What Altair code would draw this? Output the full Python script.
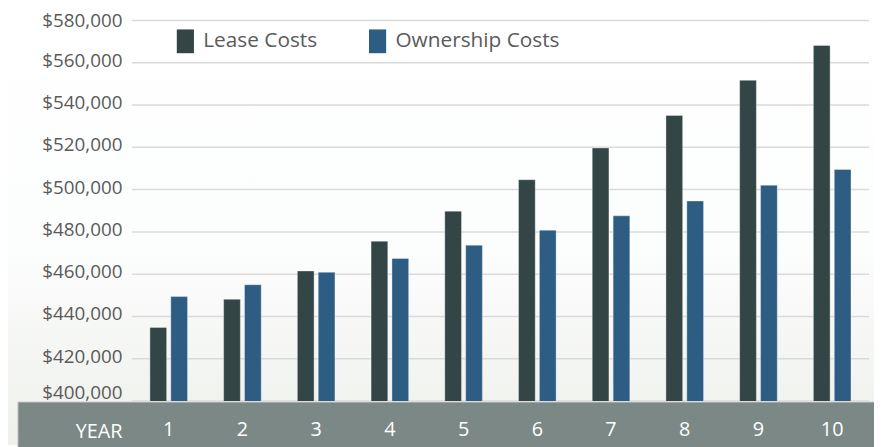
import altair as alt
import pandas as pd

years = ["1", "2", "3", "4", "5", "6", "7", "8", "9", "10"]
lease = [434800, 448100, 461500, 475600, 489800, 504700, 519700, 535100, 551700, 568200]
own = [449400, 455000, 460900, 467400, 473700, 480800, 487600, 494600, 502100, 509500]
series = ["Lease Costs", "Ownership Costs"]
colors = ["#334545", "#2e5d84"]
ticks = [400000 + 20000 * i for i in range(10)]

rows = []
for i, y in enumerate(years):
    rows.append({"year": y, "series": series[0], "cost": lease[i]})
    rows.append({"year": y, "series": series[1], "cost": own[i]})
df = pd.DataFrame(rows)
grid_df = pd.DataFrame({"v": ticks})
one = pd.DataFrame({"a": [0]})

FONT = "Open Sans"
W, H = 744, 384

bg = alt.Chart(one).mark_rect(
    fill=alt.Gradient(
        gradient="linear",
        stops=[
            alt.GradientStop(color="#ffffff", offset=0),
            alt.GradientStop(color="#fcfdfd", offset=0.55),
            alt.GradientStop(color="#eef0eb", offset=1),
        ],
        x1=0, x2=0, y1=0, y2=1,
    )
).encode(x=alt.value(-125), x2=alt.value(W + 5), y=alt.value(-10.6), y2=alt.value(H + 44.4))

band = alt.Chart(one).mark_rect(fill="#7b8886", stroke="#c9cecc", strokeWidth=1).encode(
    x=alt.value(-115), x2=alt.value(W + 10), y=alt.value(H + 1), y2=alt.value(H + 50)
)

grid = alt.Chart(grid_df).mark_rule(color="#dadada", strokeWidth=1.5).encode(
    y=alt.Y("v:Q", scale=alt.Scale(domain=[400000, 580000], nice=False, zero=False))
)

bars = alt.Chart(df).mark_bar(stroke="#ffffff", strokeOpacity=0.35, strokeWidth=1, clip=True).encode(
    x=alt.X(
        "year:N",
        sort=years,
        scale=alt.Scale(paddingInner=0.49, paddingOuter=0.245),
        axis=alt.Axis(
            title="YEAR",
            titleColor="#ffffff",
            titleFont=FONT,
            titleFontSize=20,
            titleFontWeight="normal",
            titleAlign="right",
            titleAnchor="start",
            titleX=-10,
            titleY=31,
            titleBaseline="middle",
            labelColor="#ffffff",
            labelFont=FONT,
            labelFontSize=20,
            labelAngle=0,
            labelPadding=29,
            labelBaseline="middle",
            ticks=False,
            domain=False,
            zindex=2,
        ),
    ),
    xOffset=alt.XOffset("series:N", sort=series, scale=alt.Scale(paddingInner=0.2, paddingOuter=0)),
    y=alt.Y(
        "cost:Q",
        scale=alt.Scale(domain=[400000, 580000], nice=False, zero=False),
        axis=alt.Axis(
            title=None,
            values=ticks,
            format="$,.0f",
            labelColor="#5a5a5a",
            labelFont=FONT,
            labelFontSize=19,
            labelPadding=10,
            labelOffset=alt.ExprRef("datum.value == 580000 ? 0 : -2.5"),
            labelBaseline=alt.ExprRef("datum.value == 400000 ? 'alphabetic' : 'middle'"),
            ticks=False,
            domain=False,
            grid=False,
            zindex=2,
        ),
    ),
    color=alt.Color(
        "series:N",
        sort=series,
        scale=alt.Scale(domain=series, range=colors),
        legend=alt.Legend(
            title=None,
            orient="none",
            legendX=42,
            legendY=9,
            direction="horizontal",
            symbolType="M-0.72,-1H0.72V1H-0.72Z",
            symbolSize=576,
            symbolStrokeWidth=0,
            labelFont=FONT,
            labelFontSize=21,
            labelColor="#5a5a5a",
            labelOffset=6,
            labelLimit=400,
            columnPadding=48,
            padding=0,
        ),
    ),
)

chart = (
    alt.layer(bg, band, grid, bars)
    .properties(
        width=W,
        height=H,
        padding={"left": 125, "top": 10.6, "right": 5, "bottom": 44.4},
        autosize=alt.AutoSizeParams(type="none"),
    )
    .configure_view(stroke=None)
    .configure(background="#ffffff")
)

chart.save("out.html", embed_options={"renderer": "svg", "actions": False})
